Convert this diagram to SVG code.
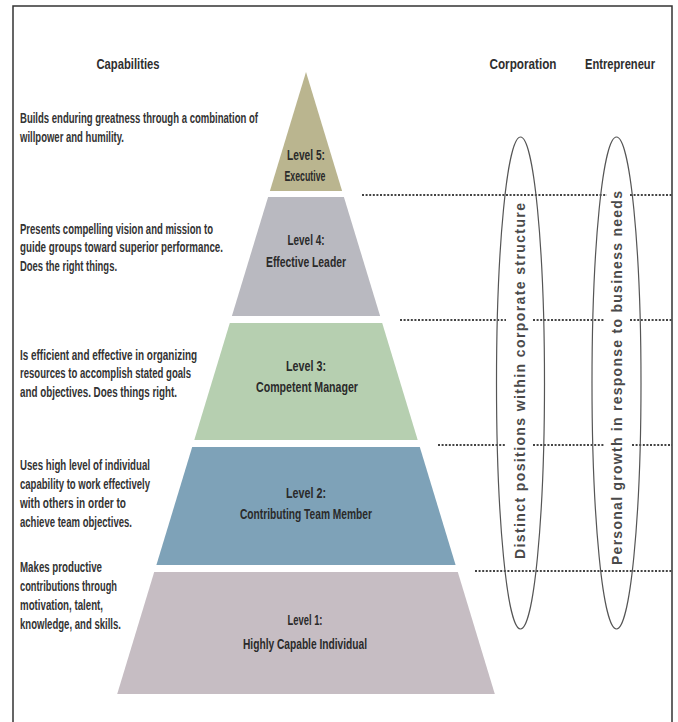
<svg xmlns="http://www.w3.org/2000/svg" width="678" height="722" viewBox="0 0 678 722">
<style>
.t{font-family:"Liberation Sans",Arial,sans-serif;font-weight:bold;fill:#333;font-size:15px}
.h{font-family:"Liberation Sans",Arial,sans-serif;font-weight:bold;fill:#2e2e2e;font-size:15px;text-anchor:middle}
.lv{font-family:"Liberation Sans",Arial,sans-serif;font-weight:bold;fill:#2a2a2a;font-size:15px;text-anchor:middle}
.rot{font-family:"Liberation Sans",Arial,sans-serif;font-weight:bold;fill:#4a4a4a;font-size:14px;text-anchor:middle}
.dot{stroke:#444;stroke-width:2;stroke-dasharray:2 1.6;fill:none}
.ell{fill:none;stroke:#555;stroke-width:1.2}
</style>
<rect width="678" height="722" fill="#fff"/>
<path d="M13,722 V6 H672 V722" fill="none" stroke="#333" stroke-width="1.5"/>
<g id="headers">
<text class="h" x="128" y="69" textLength="63" lengthAdjust="spacingAndGlyphs">Capabilities</text>
<text class="h" x="523" y="69" textLength="67" lengthAdjust="spacingAndGlyphs">Corporation</text>
<text class="h" x="620" y="69" textLength="70" lengthAdjust="spacingAndGlyphs">Entrepreneur</text>
</g>
<g id="level5">
<polygon points="306,72 342.1,191 269.9,191" fill="#bab58f"/>
<text class="lv" x="306" y="160" textLength="38" lengthAdjust="spacingAndGlyphs">Level 5:</text>
<text class="lv" x="305" y="181" textLength="41" lengthAdjust="spacingAndGlyphs">Executive</text>
</g>
<g id="level4">
<polygon points="268.1,197 343.9,197 380.1,316 231.9,316" fill="#b9b9c0"/>
<text class="lv" x="306" y="245" textLength="37" lengthAdjust="spacingAndGlyphs">Level 4:</text>
<text class="lv" x="306" y="267" textLength="80" lengthAdjust="spacingAndGlyphs">Effective Leader</text>
</g>
<g id="level3">
<polygon points="229.8,323 382.2,323 417.7,440 194.3,440" fill="#b6cfb0"/>
<text class="lv" x="306" y="371" textLength="40" lengthAdjust="spacingAndGlyphs">Level 3:</text>
<text class="lv" x="307" y="392" textLength="102" lengthAdjust="spacingAndGlyphs">Competent Manager</text>
</g>
<g id="level2">
<polygon points="192.2,447 419.8,447 455.6,565 156.4,565" fill="#7ea2b8"/>
<text class="lv" x="306" y="498" textLength="40" lengthAdjust="spacingAndGlyphs">Level 2:</text>
<text class="lv" x="306" y="519" textLength="132" lengthAdjust="spacingAndGlyphs">Contributing Team Member</text>
</g>
<g id="level1">
<polygon points="154.2,572 457.8,572 494.8,694 117.2,694" fill="#c6bdc3"/>
<text class="lv" x="305" y="625" textLength="35" lengthAdjust="spacingAndGlyphs">Level 1:</text>
<text class="lv" x="305" y="649" textLength="124" lengthAdjust="spacingAndGlyphs">Highly Capable Individual</text>
</g>
<g id="captions" transform="translate(20,0) scale(0.7,1)">
<g id="cap5">
<text class="t" x="0" y="123" textLength="340" lengthAdjust="spacingAndGlyphs">Builds enduring greatness through a combination of</text>
<text class="t" x="0" y="142" textLength="148.6" lengthAdjust="spacingAndGlyphs">willpower and humility.</text>
</g>
<g id="cap4">
<text class="t" x="0" y="234" textLength="275.7" lengthAdjust="spacingAndGlyphs">Presents compelling vision and mission to</text>
<text class="t" x="0" y="252" textLength="290" lengthAdjust="spacingAndGlyphs">guide groups toward superior performance.</text>
<text class="t" x="0" y="271" textLength="138.6" lengthAdjust="spacingAndGlyphs">Does the right things.</text>
</g>
<g id="cap3">
<text class="t" x="0" y="360" textLength="252.9" lengthAdjust="spacingAndGlyphs">Is efficient and effective in organizing</text>
<text class="t" x="0" y="378" textLength="244.3" lengthAdjust="spacingAndGlyphs">resources to accomplish stated goals</text>
<text class="t" x="0" y="397" textLength="224.3" lengthAdjust="spacingAndGlyphs">and objectives. Does things right.</text>
</g>
<g id="cap2">
<text class="t" x="0" y="470" textLength="185.7" lengthAdjust="spacingAndGlyphs">Uses high level of individual</text>
<text class="t" x="0" y="489" textLength="185.7" lengthAdjust="spacingAndGlyphs">capability to work effectively</text>
<text class="t" x="0" y="508" textLength="151.4" lengthAdjust="spacingAndGlyphs">with others in order to</text>
<text class="t" x="0" y="527" textLength="160" lengthAdjust="spacingAndGlyphs">achieve team objectives.</text>
</g>
<g id="cap1">
<text class="t" x="0" y="572" textLength="117.1" lengthAdjust="spacingAndGlyphs">Makes productive</text>
<text class="t" x="0" y="591" textLength="138.6" lengthAdjust="spacingAndGlyphs">contributions through</text>
<text class="t" x="0" y="610" textLength="118.6" lengthAdjust="spacingAndGlyphs">motivation, talent,</text>
<text class="t" x="0" y="629" textLength="144.3" lengthAdjust="spacingAndGlyphs">knowledge, and skills.</text>
</g>
</g>
<g id="connectors">
<path class="dot" d="M362,195 H607 M630,195 H672"/>
<path class="dot" d="M400,320 H506 M533,320 H604 M630,320 H672"/>
<path class="dot" d="M438,445 H506 M533,445 H604 M632,445 H672"/>
<path class="dot" d="M475,571 H672"/>
</g>
<g id="corporation">
<ellipse class="ell" cx="520.5" cy="383" rx="24" ry="246"/>
<text class="rot" transform="translate(524.5,381) rotate(-90)" x="0" y="0" textLength="356" lengthAdjust="spacing">Distinct positions within corporate structure</text>
</g>
<g id="entrepreneur">
<ellipse class="ell" cx="616.5" cy="383" rx="24.5" ry="246"/>
<text class="rot" transform="translate(621.5,378) rotate(-90)" x="0" y="0" textLength="374" lengthAdjust="spacing">Personal growth in response to business needs</text>
</g>
</svg>
